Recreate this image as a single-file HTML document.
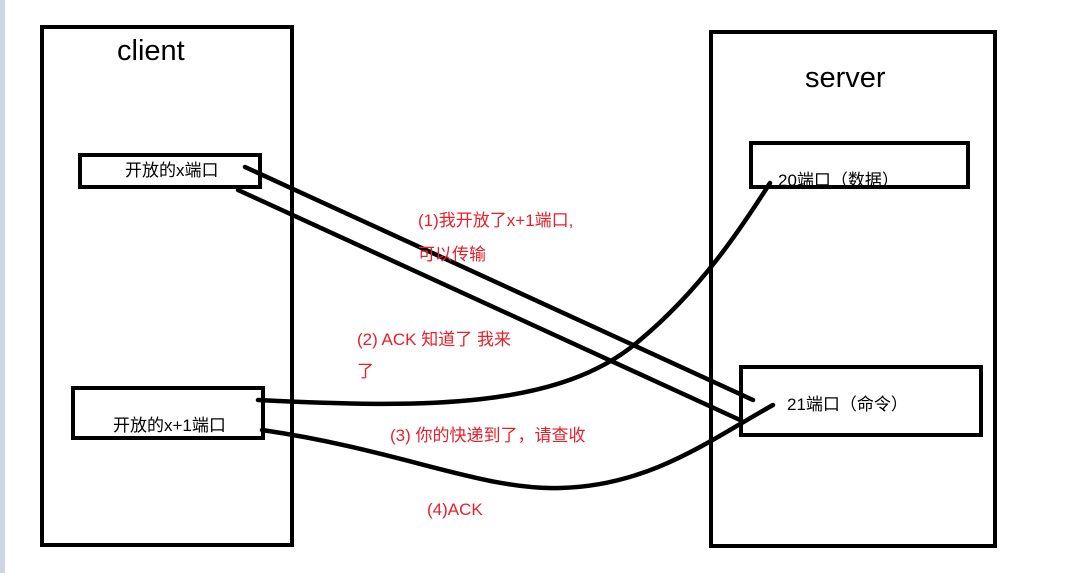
<!DOCTYPE html>
<html><head><meta charset="utf-8"><style>
body{margin:0;width:1085px;height:573px;background:#fff;overflow:hidden;position:relative;font-family:"Liberation Sans","Noto Sans CJK SC",sans-serif}
.t{position:absolute;white-space:nowrap}
.r{color:#e8202a;font-size:17px}
</style></head><body>
<div style="position:absolute;left:0;top:0;width:5px;height:573px;background:#cdd5e5"></div>
<svg width="1085" height="573" style="position:absolute;left:0;top:0">
<g fill="none" stroke="#000" stroke-width="4">
<rect x="42" y="27" width="250" height="518"/>
<rect x="711" y="32" width="284" height="514"/>
<rect x="80" y="155" width="180" height="32"/>
<rect x="73" y="388" width="190" height="50"/>
<rect x="751" y="143" width="217" height="44"/>
<rect x="741" y="367" width="240" height="68"/>
<g stroke-linecap="round" stroke-width="4.5">
<line x1="245" y1="167" x2="753" y2="400"/>
<line x1="238" y1="190" x2="740" y2="420"/>
<path d="M258 400 C 420 408, 560 410, 640 340 C 700 290, 740 230, 770 183"/>
<path d="M262 430 C 400 450, 480 490, 560 488 C 650 486, 710 440, 773 405"/>
</g></g></svg>
<div class="t" style="left:117px;top:35px;font-size:29px">client</div>
<div class="t" style="left:805px;top:62px;font-size:29px">server</div>
<div class="t" style="left:125px;top:156px;font-size:17px">开放的x端口</div>
<div class="t" style="left:113px;top:411px;font-size:17px">开放的x+1端口</div>
<div class="t" style="left:778px;top:166px;font-size:17px">20端口（数据）</div>
<div class="t" style="left:787px;top:390px;font-size:17px">21端口（命令）</div>
<div class="t r" style="left:418px;top:206px">(1)我开放了x+1端口,</div>
<div class="t r" style="left:418px;top:240px">可以传输</div>
<div class="t r" style="left:357px;top:325px">(2) ACK 知道了 我来</div>
<div class="t r" style="left:357px;top:357px">了</div>
<div class="t r" style="left:390px;top:421px">(3) 你的快递到了，请查收</div>
<div class="t r" style="left:427px;top:500px">(4)ACK</div>
</body></html>
